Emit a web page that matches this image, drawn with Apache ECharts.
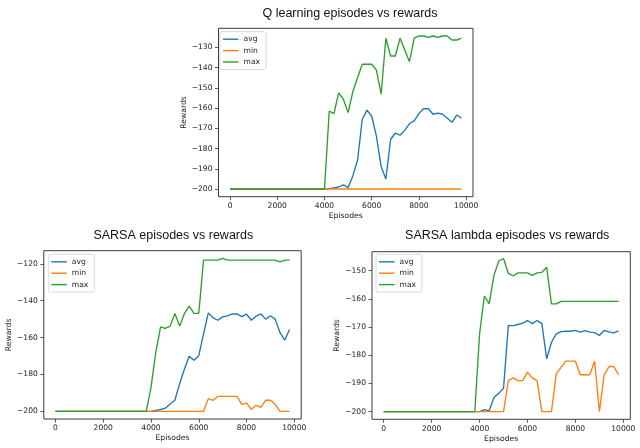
<!DOCTYPE html>
<html><head><meta charset="utf-8">
<script src="https://cdn.jsdelivr.net/npm/echarts@6/dist/echarts.min.js"></script>
<style>html,body{margin:0;padding:0;background:#fff}#c{width:640px;height:448px}</style>
</head><body><div id="c"></div>
<script>
const episodes = [0,200,400,600,800,1000,1200,1400,1600,1800,2000,2200,2400,2600,2800,3000,3200,3400,3600,3800,
  4000,4200,4400,4600,4800,5000,5200,5400,5600,5800,6000,6200,6400,6600,6800,7000,7200,7400,7600,7800,
  8000,8200,8400,8600,8800,9000,9200,9400,9600,9800];

const qAvg = [-200,-200,-200,-200,-200,-200,-200,-200,-200,-200,-200,-200,-200,-200,-200,-200,-200,-200,-200,-200,
  -200,-199.8,-199.5,-199,-197.9,-199.3,-193.5,-185.8,-165.5,-161,-164,-174,-189,-195,-175.5,-172.3,-173.4,-171,-167.6,-166.3,
  -162.7,-160.2,-160.3,-163,-162.5,-163,-165,-167,-163.4,-165];
const qMin = [-200,-200,-200,-200,-200,-200,-200,-200,-200,-200,-200,-200,-200,-200,-200,-200,-200,-200,-200,-200,
  -200,-200,-200,-200,-200,-200,-200,-200,-200,-200,-200,-200,-200,-200,-200,-200,-200,-200,-200,-200,
  -200,-200,-200,-200,-200,-200,-200,-200,-200,-200];
const qMax = [-200,-200,-200,-200,-200,-200,-200,-200,-200,-200,-200,-200,-200,-200,-200,-200,-200,-200,-200,-200,
  -200,-161.5,-162.7,-152.4,-155.6,-162.2,-151.9,-145,-138.3,-138.3,-138.3,-141.2,-153.1,-125.4,-134.2,-134.2,-125.4,-131.2,-137,-125.4,
  -124.3,-124.3,-125,-124.3,-125,-124.3,-124.3,-126.3,-126.3,-125.4];

const sAvg = [-200,-200,-200,-200,-200,-200,-200,-200,-200,-200,-200,-200,-200,-200,-200,-200,-200,-200,-200,-200,
  -200,-199.5,-199,-198.3,-196,-194,-185,-177,-170.1,-172.3,-169.8,-158,-146.6,-149.3,-150.6,-148.8,-148.2,-147.2,-147.2,-148.6,
  -147.3,-150.6,-148.4,-147.2,-150,-148.2,-150,-157.2,-161.4,-155.6];
const sMin = [-200,-200,-200,-200,-200,-200,-200,-200,-200,-200,-200,-200,-200,-200,-200,-200,-200,-200,-200,-200,
  -200,-200,-200,-200,-200,-200,-200,-200,-200,-200,-200,-200,-193.1,-194,-191.9,-191.9,-191.9,-191.9,-191.9,-196.2,
  -195.5,-198.9,-196.7,-197.8,-194,-194,-196.2,-200,-200,-200];
const sMax = [-200,-200,-200,-200,-200,-200,-200,-200,-200,-200,-200,-200,-200,-200,-200,-200,-200,-200,-200,-200,
  -187,-168,-154.2,-155,-153.8,-146.9,-153.8,-146.9,-143,-146.9,-146.9,-118,-118,-118,-118,-117,-118,-118,-118,-118,
  -118,-118,-118,-118,-118,-118,-118,-118.9,-118,-118];

const lAvg = [-200,-200,-200,-200,-200,-200,-200,-200,-200,-200,-200,-200,-200,-200,-200,-200,-200,-200,-200,-200,
  -200,-199.3,-199.6,-195,-193.5,-191.7,-169.4,-169.5,-169.1,-168.6,-167.7,-168.8,-167.7,-168.8,-181.3,-175.4,-172.4,-171.6,-171.5,-171.5,
  -171.2,-171.8,-171.3,-171.8,-172,-173,-171.2,-171.7,-172.1,-171.4];
const lMin = [-200,-200,-200,-200,-200,-200,-200,-200,-200,-200,-200,-200,-200,-200,-200,-200,-200,-200,-200,-200,
  -200,-200,-200,-200,-200,-200,-189,-188,-189,-189,-186,-188,-189,-200,-200,-200,-186.6,-184.3,-182.1,-182.1,
  -182.1,-186.9,-186.9,-186.9,-182.1,-200,-186.9,-184,-184,-186.9];
const lMax = [-200,-200,-200,-200,-200,-200,-200,-200,-200,-200,-200,-200,-200,-200,-200,-200,-200,-200,-200,-200,
  -172.4,-159,-161.7,-151.7,-146.6,-145.7,-151,-151.9,-150.8,-150.8,-150.8,-151.7,-150.8,-150.6,-148.8,-161.8,-161.8,-160.9,-160.9,-160.9,
  -160.9,-160.9,-160.9,-160.9,-160.9,-160.9,-160.9,-160.9,-160.9,-160.9];

const xTicks = [0,2000,4000,6000,8000,10000];
const qTicks = [-200,-190,-180,-170,-160,-150,-140,-130];
const sTicks = [-200,-180,-160,-140,-120];
const lTicks = [-200,-190,-180,-170,-160,-150];
const seriesNames = ['avg','min','max'];
const titles = ['Q learning episodes vs rewards','SARSA episodes vs rewards','SARSA lambda episodes vs rewards'];
const xName = 'Episodes';
const yName = 'Rewards';

const colors = ['#1f77b4','#ff7f0e','#2ca02c'];
const tickFont = {fontSize:7.6, fontFamily:'DejaVu Sans', color:'#222'};
const fmt = v => String(v).replace('-', '\u2212');

const panels = [
  {grid:{left:218.5, top:28.3, width:254.5, height:168.4}, yMin:-203.8, yMax:-120.5, ticks:qTicks, data:[qAvg,qMin,qMax], title:{x:350,y:13.5}, legend:{left:220, top:31.7}},
  {grid:{left:43.8, top:250.7, width:257.4, height:168.3}, yMin:-204.15, yMax:-112.9, ticks:sTicks, data:[sAvg,sMin,sMax], title:{x:173.3,y:235.3}, legend:{left:48.3, top:254.3}},
  {grid:{left:372, top:251.7, width:258.3, height:167.6}, yMin:-202.7, yMax:-143.3, ticks:lTicks, data:[lAvg,lMin,lMax], title:{x:507.2,y:235.3}, legend:{left:376, top:254.3}}
];

const option = {
  animation:false,
  color:colors,
  grid:[], xAxis:[], yAxis:[], series:[], legend:[], graphic:[]
};
panels.forEach((p,i)=>{
  option.grid.push(Object.assign({show:true, borderColor:'#3a3a3a', borderWidth:1, backgroundColor:'#fff'}, p.grid));
  option.xAxis.push({type:'value', gridIndex:i, min:-490, max:10290,
    splitLine:{show:false}, axisLine:{show:false, onZero:false},
    axisTick:{show:true, length:3.5, lineStyle:{color:'#333', width:0.8}, customValues:xTicks},
    axisLabel:Object.assign({customValues:xTicks, margin:5.5, formatter:fmt}, tickFont),
    name:xName, nameLocation:'middle', nameGap:15.5,
    nameTextStyle:{fontSize:7.7, fontFamily:'DejaVu Sans', color:'#222'}});
  option.yAxis.push({type:'value', gridIndex:i, min:p.yMin, max:p.yMax,
    splitLine:{show:false}, axisLine:{show:false, onZero:false},
    axisTick:{show:true, length:3.5, lineStyle:{color:'#333', width:0.8}, customValues:p.ticks},
    axisLabel:Object.assign({customValues:p.ticks, margin:6, formatter:fmt}, tickFont),
    name:yName, nameLocation:'middle', nameGap:30.5,
    nameTextStyle:{fontSize:7.7, fontFamily:'DejaVu Sans', color:'#222'}});
  seriesNames.forEach((n,k)=>{
    option.series.push({type:'line', name:n, xAxisIndex:i, yAxisIndex:i, showSymbol:false, symbol:'none',
      lineStyle:{width:1.35, color:colors[k]}, itemStyle:{color:colors[k]},
      data:episodes.map((e,j)=>[e, p.data[k][j]])});
  });
  option.legend.push({orient:'vertical', left:p.legend.left, top:p.legend.top, data:seriesNames,
    icon:'rect', itemWidth:15.5, itemHeight:1.4, itemGap:2.4,
    padding:[3,6,3,3], backgroundColor:'#fff', borderColor:'#d0d0d0', borderWidth:0.8, borderRadius:2,
    textStyle:{fontSize:7.6, fontFamily:'DejaVu Sans', color:'#222', lineHeight:9}, selectedMode:false});
  option.graphic.push({type:'text', x:p.title.x, y:p.title.y,
    style:{text:titles[i], font:'12.5px "Liberation Sans", Arial, sans-serif', fill:'#111', align:'center', verticalAlign:'middle', textAlign:'center', textVerticalAlign:'middle'}});
});
const chart = echarts.init(document.getElementById('c'), null, {renderer:'canvas'});
chart.setOption(option);
</script></body></html>
